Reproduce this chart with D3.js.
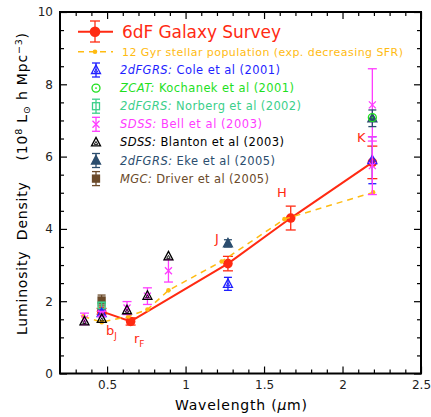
<!DOCTYPE html>
<html lang="en">
<head>
<meta charset="UTF-8">
<title>Luminosity density</title>
<script src="https://d3js.org/d3.v7.min.js"></script>
<style>
  body { margin: 0; background: #fff; }
  text { font-family: "DejaVu Sans", sans-serif; }
</style>
</head>
<body>
<svg id="chart" width="431" height="417"></svg>
<script>
    // ---- data ----
    // 6dF Galaxy Survey (bJ, rF, J, H, K)
    sixdfWave = [0.465, 0.65, 1.27, 1.67, 2.19];
    sixdfLum  = [1.72, 1.44, 3.04, 4.30, 5.84];
    sixdfErr  = [0.08, 0.10, 0.20, 0.33, 0.45];
    sixdfBand = [["b", "J"], ["r", "F"], ["J", ""], ["H", ""], ["K", ""]];

    // 12 Gyr stellar population model
    modelWave = [0.349, 0.466, 0.636, 0.757, 0.891, 1.23, 1.63, 2.195];
    modelLum  = [1.58, 1.42, 1.58, 1.77, 2.30, 3.10, 4.27, 5.01];

    // other surveys
    coleWave = [0.465, 1.27, 2.19];
    coleLum  = [1.67, 2.48, 5.90];
    coleErr  = [0.08, 0.18, 0.65];

    kochWave = [2.19];
    kochLum  = [7.08];

    norbWave = [0.465];
    norbLum  = [1.88];
    norbErr  = [0.08];

    bellWave = [0.356, 0.466, 0.627, 0.757, 0.891, 2.19, 2.19];
    bellLum  = [1.51, 1.65, 1.81, 2.14, 2.84, 7.43, 5.75];
    bellErr  = [0.16, 0.07, 0.18, 0.23, 0.31, 1.00, 0.80];

    blanWave = [0.356, 0.466, 0.627, 0.757, 0.891];
    blanLum  = [1.44, 1.51, 1.75, 2.15, 3.24];

    ekeWave = [1.27, 2.19];
    ekeLum  = [3.60, 7.06];
    ekeErr  = [0.10, 0.23];

    drivWave = [0.465];
    drivLum  = [2.02];
    drivErr  = [0.15];

    xMajor = [0.5, 1, 1.5, 2, 2.5];
    yMajor = [0, 2, 4, 6, 8, 10];

    red = "#ff2a12", gold = "#ffbb11";
    cBlue = "#1f1fff", cGreen = "#1ee01e", cTeal = "#3ccf8a", cMag = "#ff3cff",
    cBlack = "#000", cSlate = "#2b4d6e", cBrown = "#6b4a2a";

    svg = d3.select("#chart");

    x = d3.scaleLinear().domain([0.2, 2.5]).range([60, 421]);
    y = d3.scaleLinear().domain([0, 10]).range([373.5, 12]);

    // ---- axes: ticks on all four sides, pointing inwards ----
    xMinor = d3.range(3, 25).map(d => d / 10).filter(d => !xMajor.includes(d));
    yMinor = d3.range(1, 20).map(d => d / 2).filter(d => !yMajor.includes(d));

    function axisPair(axisFn, scale, pos, labels) {
        svg.append("g").attr("transform", pos)
            .call(axisFn(scale).tickValues(scale === x ? xMajor : yMajor)
                .tickSizeInner(-7).tickSizeOuter(0).tickPadding(7)
                .tickFormat(labels ? (d => d) : ""));
        svg.append("g").attr("transform", pos)
            .call(axisFn(scale).tickValues(scale === x ? xMinor : yMinor)
                .tickSizeInner(-4).tickSizeOuter(0).tickFormat(""));
    }
    axisPair(d3.axisBottom, x, "translate(0,373.5)", true);
    axisPair(d3.axisTop, x, "translate(0,12)", false);
    axisPair(d3.axisLeft, y, "translate(60,0)", true);
    axisPair(d3.axisRight, y, "translate(421,0)", false);
    svg.selectAll(".domain").remove();
    svg.selectAll(".tick line").attr("stroke", "#000").attr("stroke-width", 1.2);
    svg.selectAll(".tick text").attr("font-size", 12).attr("fill", "#222")
        .style("font-family", "DejaVu Sans");

    svg.append("rect")
        .attr("x", 60).attr("y", 12)
        .attr("width", 361).attr("height", 361.5)
        .attr("fill", "none").attr("stroke", "#000").attr("stroke-width", 2);

    // axis titles
    svg.append("text")
        .attr("x", 241).attr("y", 410)
        .attr("text-anchor", "middle").attr("font-size", 14)
        .attr("textLength", 132).attr("lengthAdjust", "spacing")
        .html('Wavelength (<tspan font-style="italic">μ</tspan>m)');

    yl = svg.append("text")
        .attr("transform", "translate(27,184) rotate(-90)")
        .attr("text-anchor", "middle").attr("font-size", 14)
        .attr("textLength", 302).attr("lengthAdjust", "spacing")
        .attr("xml:space", "preserve");
    yl.append("tspan").text("Luminosity  Density    (10");
    yl.append("tspan").attr("dy", -5).attr("font-size", 9.5).text("8");
    yl.append("tspan").attr("dy", 5).text(" L");
    yl.append("tspan").attr("dy", 3).attr("font-size", 9.5).text("⊙");
    yl.append("tspan").attr("dy", -3).text(" h Mpc");
    yl.append("tspan").attr("dy", -5).attr("font-size", 9.5).text("−3");
    yl.append("tspan").attr("dy", 5).text(")");

    // ---- helpers ----
    function errBars(xs, ys, es, color, cap) {
        let g = svg.append("g").attr("stroke", color).attr("stroke-width", 1.3);
        xs.forEach((w, i) => {
            let cx = x(w), lo = y(ys[i] - es[i]), hi = y(ys[i] + es[i]);
            g.append("line").attr("x1", cx).attr("x2", cx).attr("y1", lo).attr("y2", hi);
            g.append("line").attr("x1", cx - cap).attr("x2", cx + cap).attr("y1", lo).attr("y2", lo);
            g.append("line").attr("x1", cx - cap).attr("x2", cx + cap).attr("y1", hi).attr("y2", hi);
        });
    }

    function marker(g, kind, cx, cy, color) {
        if (kind === "tri" || kind === "triFill") {
            g.append("path").attr("d", `M${cx},${cy - 5}L${cx + 4.5},${cy + 3.5}L${cx - 4.5},${cy + 3.5}Z`)
                .attr("fill", kind === "triFill" ? color : "none").attr("stroke", color).attr("stroke-width", 1.3);
            if (kind === "tri")
                g.append("path").attr("d", `M${cx},${cy - 1}L${cx + 1.8},${cy + 2}L${cx - 1.8},${cy + 2}Z`)
                    .attr("fill", "none").attr("stroke", color).attr("stroke-width", 0.9);
        } else if (kind === "circDot") {
            g.append("circle").attr("cx", cx).attr("cy", cy).attr("r", 4)
                .attr("fill", "none").attr("stroke", color).attr("stroke-width", 1.3);
            g.append("circle").attr("cx", cx).attr("cy", cy).attr("r", 0.9).attr("fill", color);
        } else if (kind === "square" || kind === "squareFill") {
            g.append("rect").attr("x", cx - 3.5).attr("y", cy - 3.5).attr("width", 7).attr("height", 7)
                .attr("fill", kind === "squareFill" ? color : "none").attr("stroke", color).attr("stroke-width", 1.3);
        } else if (kind === "cross") {
            g.append("path").attr("d", `M${cx - 3.5},${cy - 3.5}L${cx + 3.5},${cy + 3.5}M${cx - 3.5},${cy + 3.5}L${cx + 3.5},${cy - 3.5}`)
                .attr("stroke", color).attr("stroke-width", 1.3);
        }
    }

    function points(xs, ys, kind, color) {
        let g = svg.append("g");
        xs.forEach((w, i) => marker(g, kind, x(w), y(ys[i]), color));
    }

    // ---- 6dF line and points ----
    line = d3.line().x(d => x(d[0])).y(d => y(d[1]));
    svg.append("path")
        .attr("d", line(d3.zip(sixdfWave, sixdfLum)))
        .attr("fill", "none").attr("stroke", red).attr("stroke-width", 2);
    errBars(sixdfWave, sixdfLum, sixdfErr, red, 5);
    svg.append("g").selectAll("circle")
        .data(d3.zip(sixdfWave, sixdfLum)).join("circle")
        .attr("cx", d => x(d[0])).attr("cy", d => y(d[1])).attr("r", 4.8)
        .attr("fill", red);

    // ---- model ----
    svg.append("path")
        .attr("d", line(d3.zip(modelWave, modelLum)))
        .attr("fill", "none").attr("stroke", gold).attr("stroke-width", 1.5)
        .attr("stroke-dasharray", "6,5");
    svg.append("g").selectAll("circle")
        .data(d3.zip(modelWave, modelLum)).join("circle")
        .attr("cx", d => x(d[0])).attr("cy", d => y(d[1])).attr("r", 2.3)
        .attr("fill", gold);

    // ---- other surveys ----
    errBars(drivWave, drivLum, drivErr, cBrown, 4);
    points(drivWave, drivLum, "squareFill", cBrown);
    errBars(norbWave, norbLum, norbErr, cTeal, 4);
    points(norbWave, norbLum, "square", cTeal);
    errBars(coleWave, coleLum, coleErr, cBlue, 4);
    points(coleWave, coleLum, "tri", cBlue);
    errBars(bellWave, bellLum, bellErr, cMag, 4.5);
    points(bellWave, bellLum, "cross", cMag);
    points(blanWave, blanLum, "tri", cBlack);
    errBars(ekeWave, ekeLum, ekeErr, cSlate, 4);
    points(ekeWave, ekeLum, "triFill", cSlate);
    points(kochWave, kochLum, "circDot", cGreen);

    // band labels
    bandPos = [[106, 335], [134, 343], [215, 243], [277, 197], [357, 142]];
    sixdfBand.forEach((b, i) => {
        let t = svg.append("text").attr("x", bandPos[i][0]).attr("y", bandPos[i][1])
            .attr("fill", red).attr("font-size", 13).text(b[0]);
        if (b[1]) t.append("tspan").attr("dy", 4).attr("font-size", 9).text(b[1]);
    });

    // ---- legend ----
    lg = svg.append("g");
    lg.append("line").attr("x1", 78).attr("x2", 113).attr("y1", 31.7).attr("y2", 31.7)
        .attr("stroke", red).attr("stroke-width", 2);
    lg.append("g").attr("stroke", red).attr("stroke-width", 1.3).call(g => {
        g.append("line").attr("x1", 95).attr("x2", 95).attr("y1", 21).attr("y2", 42);
        g.append("line").attr("x1", 90).attr("x2", 100).attr("y1", 21).attr("y2", 21);
        g.append("line").attr("x1", 90).attr("x2", 100).attr("y1", 42).attr("y2", 42);
    });
    lg.append("circle").attr("cx", 95).attr("cy", 31.7).attr("r", 5.3).attr("fill", red);
    lg.append("text").attr("x", 122).attr("y", 38).attr("font-size", 17)
        .attr("textLength", 159).attr("lengthAdjust", "spacing")
        .attr("fill", red).text("6dF Galaxy Survey");

    lg.append("line").attr("x1", 78).attr("x2", 113).attr("y1", 51.7).attr("y2", 51.7)
        .attr("stroke", gold).attr("stroke-width", 1.5).attr("stroke-dasharray", "6,5");
    lg.append("circle").attr("cx", 95).attr("cy", 51.7).attr("r", 2.3).attr("fill", gold);
    lg.append("text").attr("x", 122).attr("y", 55.7).attr("font-size", 11)
        .attr("textLength", 281).attr("lengthAdjust", "spacing")
        .attr("fill", gold).text("12 Gyr stellar population (exp. decreasing SFR)");

    legendRows = [
        ["2dFGRS:", " Cole et al (2001)", cBlue, "tri", true, 160],
        ["ZCAT:", " Kochanek et al (2001)", cGreen, "circDot", false, 174],
        ["2dFGRS:", " Norberg et al (2002)", cTeal, "square", true, 181],
        ["SDSS:", " Bell et al (2003)", cMag, "cross", true, 142],
        ["SDSS:", " Blanton et al (2003)", cBlack, "tri", false, 164],
        ["2dFGRS:", " Eke et al (2005)", cSlate, "triFill", true, 155],
        ["MGC:", " Driver et al (2005)", cBrown, "squareFill", true, 149]
    ];
    legendRows.forEach((r, i) => {
        let cy = 70 + i * 18.1;
        if (r[4]) {
            let g = lg.append("g").attr("stroke", r[2]).attr("stroke-width", 1.3);
            g.append("line").attr("x1", 96).attr("x2", 96).attr("y1", cy - 7).attr("y2", cy + 7);
            g.append("line").attr("x1", 92).attr("x2", 100).attr("y1", cy - 7).attr("y2", cy - 7);
            g.append("line").attr("x1", 92).attr("x2", 100).attr("y1", cy + 7).attr("y2", cy + 7);
        }
        marker(lg, r[3], 96, cy, r[2]);
        let t = lg.append("text").attr("x", 120).attr("y", cy + 4).attr("font-size", 11.5)
            .attr("textLength", r[5]).attr("lengthAdjust", "spacing")
            .attr("fill", r[2]).attr("xml:space", "preserve");
        t.append("tspan").attr("font-style", "italic").text(r[0]);
        t.append("tspan").text(r[1]);
    });
</script>
</body>
</html>
